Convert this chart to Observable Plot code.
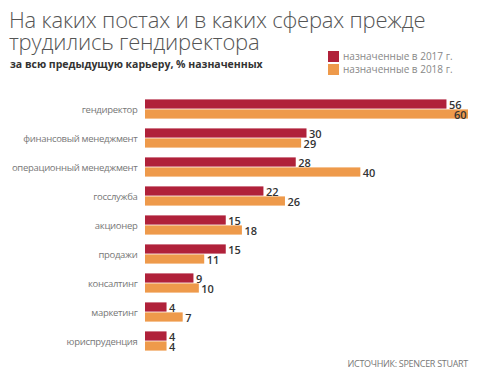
<!DOCTYPE html>
<html>
<head>
<meta charset="utf-8">
<script src="https://cdn.jsdelivr.net/npm/d3@7"></script>
<script src="https://cdn.jsdelivr.net/npm/@observablehq/plot@0.6"></script>
<style>
  html, body { margin: 0; padding: 0; background: #fff; }
  #wrap { position: relative; width: 477px; height: 380px; overflow: hidden; font-family: "Open Sans", sans-serif; }
  #title { position: absolute; left: 9px; top: 8px; font-size: 22px; line-height: 22px; font-weight: 300; color: #555; letter-spacing: -0.2px; white-space: nowrap; }
  #subtitle { position: absolute; left: 10px; top: 57px; font-size: 10.5px; line-height: 14px; font-weight: 700; color: #333; white-space: nowrap; }
  #legend { position: absolute; left: 328px; top: 50px; font-size: 10px; line-height: 13px; color: #888; }
  .li { display: flex; align-items: center; height: 13px; }
  .sw { width: 11px; height: 11px; margin-right: 4px; }
  #source { position: absolute; right: 9px; top: 357px; font-size: 9px; color: #777; letter-spacing: -0.3px; white-space: nowrap; }
  #chart { position: absolute; left: 0; top: 0; }
</style>
</head>
<body>
<div id="wrap">
  <div id="chart"></div>
  <div id="title">На каких постах и в каких сферах прежде<br>трудились гендиректора</div>
  <div id="subtitle">за всю предыдущую карьеру, % назначенных</div>
  <div id="legend"></div>
  <div id="source">ИСТОЧНИК: SPENCER STUART</div>
</div>
<script>
const categories = ["гендиректор", "финансовый менеджмент", "операционный менеджмент", "госслужба", "акционер", "продажи", "консалтинг", "маркетинг", "юриспруденция"];
const series = ["назначенные в 2017 г.", "назначенные в 2018 г."];
const values2017 = [56, 30, 28, 22, 15, 15, 9, 4, 4];
const values2018 = [60, 29, 40, 26, 18, 11, 10, 7, 4];
const colors = ["#b0213a", "#ee9a4b"];

const data = [];
categories.forEach((c, i) => {
  data.push({category: c, series: series[0], value: values2017[i]});
  data.push({category: c, series: series[1], value: values2018[i]});
});
const maxV = d3.max(data, d => d.value);

// legend
const leg = document.getElementById("legend");
series.forEach((s, i) => {
  const row = document.createElement("div");
  row.className = "li";
  row.innerHTML = `<span class="sw" style="background:${colors[i]}"></span><span>${s}</span>`;
  leg.appendChild(row);
});

const chart = Plot.plot({
  width: 477,
  height: 380,
  marginTop: 97,
  marginBottom: 28,
  marginLeft: 145,
  marginRight: 9,
  style: {fontFamily: "Open Sans, sans-serif", background: "transparent"},
  x: {domain: [0, 60], axis: null},
  y: {domain: series, axis: null, padding: 0.04},
  fy: {domain: categories, axis: "left", label: null, paddingInner: 0.25, paddingOuter: 0, tickSize: 0, tickPadding: 8},
  color: {domain: series, range: colors},
  marks: [
    Plot.barX(data, {x: "value", y: "series", fy: "category", fill: "series", insetTop: 0.4, insetBottom: 0.4}),
    Plot.text(data.filter(d => d.value < maxV), {x: "value", y: "series", fy: "category", text: d => String(d.value), textAnchor: "start", dx: 2, dy: 0.5, fontSize: 11, fontWeight: 600, fill: "#333"}),
    Plot.text(data.filter(d => d.value >= maxV), {x: "value", y: "series", fy: "category", text: d => String(d.value), textAnchor: "end", dx: -2, dy: 0.5, fontSize: 11, fontWeight: 600, fill: "#333"})
  ]
});
chart.querySelectorAll("g[aria-label='fy-axis tick label']").forEach(el => {
  el.setAttribute("fill", "#777");
  el.setAttribute("font-size", "9.5");
  el.setAttribute("letter-spacing", "-0.3");
});
document.getElementById("chart").appendChild(chart);
</script>
</body>
</html>
